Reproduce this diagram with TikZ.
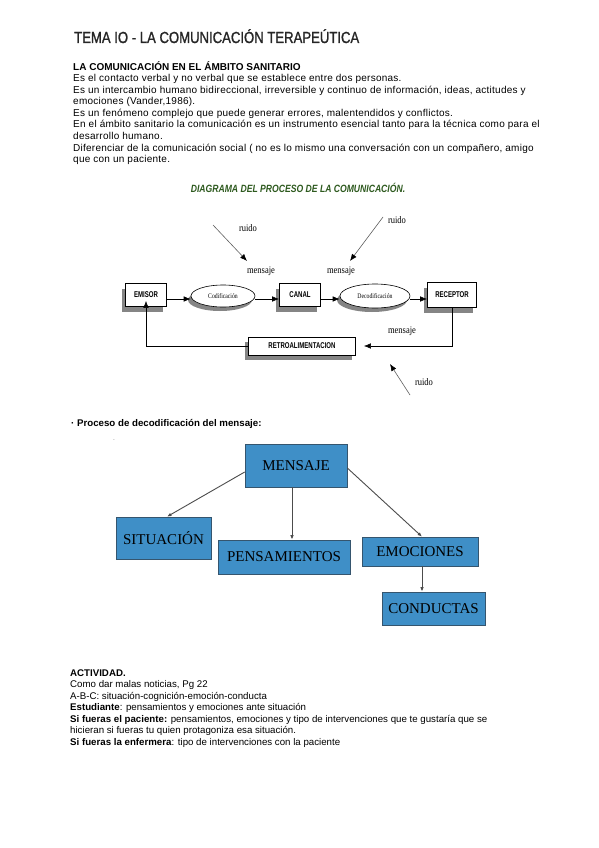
\documentclass[tikz,border=0pt]{standalone}
\usepackage{fontspec}
\setmainfont{Liberation Sans}
\newfontfamily\spacedsans[LetterSpace=2.5]{Liberation Sans}
\newfontfamily\titlefont[FakeStretch=0.82,FakeBold=1.2]{Liberation Sans}
\newfontfamily\condsans[FakeStretch=0.72]{Liberation Sans}
\newfontfamily\dtitlefont[FakeStretch=0.82]{Liberation Sans}
\newfontfamily\condserif[FakeStretch=0.82]{Liberation Serif}
\newfontfamily\lblserif[FakeStretch=0.85]{Liberation Serif}
\newfontfamily\timesf{Liberation Serif}
\usetikzlibrary{arrows.meta,shapes.geometric,shadows}
\definecolor{dgreen}{HTML}{2E5A1F}
\definecolor{boxblue}{HTML}{3F8FC7}
\definecolor{boxedge}{HTML}{35556E}
\definecolor{shadowgray}{HTML}{858585}
\begin{document}
\begin{tikzpicture}[x=1pt,y=-1pt,
  txt/.style={anchor=base west,inner sep=0pt,font=\spacedsans\fontsize{10}{11}\selectfont},
  atxt/.style={anchor=base west,inner sep=0pt,font=\fontsize{9.7}{11}\selectfont},
  comm/.style={draw=black,fill=white,line width=0.7pt,inner sep=0pt,
    font=\condsans\bfseries\fontsize{8.4}{9}\selectfont,
    drop shadow={shadow xshift=-4pt,shadow yshift=-5pt,fill=shadowgray,opacity=1}},
  ell/.style={ellipse,draw=black,fill=white,line width=0.6pt,inner sep=0pt,
    font=\condserif\fontsize{7}{8}\selectfont,
    drop shadow={shadow xshift=-3pt,shadow yshift=-4pt,fill=shadowgray,opacity=1}},
  lbl/.style={inner sep=0pt,font=\lblserif\fontsize{10}{10}\selectfont},
  carrow/.style={-{Latex[length=7pt,width=5.5pt]},line width=0.6pt,black},
  narrow/.style={-{Latex[length=7pt,width=5.5pt,fill=black,color=black]},line width=0.6pt,draw=gray!75!black},
  bluebox/.style={draw=boxedge,fill=boxblue,line width=0.6pt,inner sep=0pt,
    font=\timesf\fontsize{15}{16}\selectfont},
  darrow/.style={-{Latex[length=4.5pt,width=3.5pt]},line width=0.9pt,gray!60!black}
]
\useasboundingbox[fill=white] (0,0) rectangle (599,848);

% Title
\node[anchor=base west,inner sep=0pt,font=\titlefont\fontsize{16}{18}\selectfont,text=black!85]
  (title) at (74,43) {TEMA IO - LA COMUNICACIÓN TERAPEÚTICA};

% Section 1
\node[txt,font=\bfseries\fontsize{10}{11}\selectfont] (s1) at (73,70.5) {LA COMUNICACIÓN EN EL ÁMBITO SANITARIO};
\node[txt] (l1) at (73,82) {Es el contacto verbal y no verbal que se establece entre dos personas.};
\node[txt] (l2) at (73,93.5) {Es un intercambio humano bidireccional, irreversible y continuo de información, ideas, actitudes y};
\node[txt] (l3) at (73,105) {emociones (Vander,1986).};
\node[txt] (l4) at (73,116.5) {Es un fenómeno complejo que puede generar errores, malentendidos y conflictos.};
\node[txt] (l5) at (73,128) {En el ámbito sanitario la comunicación es un instrumento esencial tanto para la técnica como para el};
\node[txt] (l6) at (73,139.5) {desarrollo humano.};
\node[txt] (l7) at (73,151) {Diferenciar de la comunicación social ( no es lo mismo una conversación con un compañero, amigo};
\node[txt] (l8) at (73,162.5) {que con un paciente.};

% Diagram 1
\node[inner sep=0pt,font=\dtitlefont\bfseries\itshape\fontsize{10.5}{11}\selectfont,text=dgreen]
  (dtitle) at (298,188) {DIAGRAMA DEL PROCESO DE LA COMUNICACIÓN.};

\node[comm,minimum width=41pt,minimum height=23pt] (emisor) at (146,295) {EMISOR};
\node[ell,minimum width=64pt,minimum height=22pt] (cod) at (223,296) {Codificación};
\node[comm,minimum width=41pt,minimum height=23pt] (canal) at (300,295) {CANAL};
\node[ell,minimum width=70pt,minimum height=24pt] (decod) at (375,296) {Decodificación};
\node[comm,minimum width=49pt,minimum height=25pt] (receptor) at (452,295) {RECEPTOR};
\node[comm,minimum width=107pt,minimum height=18pt] (retro) at (302,346) {RETROALIMENTACION};

\draw[carrow] (emisor.east |- 0,299) -- (cod.west |- 0,299);
\draw[carrow] (cod.east |- 0,299) -- (canal.west |- 0,299);
\draw[carrow] (canal.east |- 0,299) -- (decod.west |- 0,299);
\draw[carrow] (decod.east |- 0,299) -- (receptor.west |- 0,299);
\draw[carrow] (receptor.south) |- ([xshift=8pt]retro.east);
\draw[carrow] (retro.west) -| ([yshift=6pt]emisor.south);

\coordinate (r1a) at (213,225); \coordinate (r1b) at (247,261);
\coordinate (r2a) at (383,217); \coordinate (r2b) at (350,261);
\coordinate (r3a) at (410,395); \coordinate (r3b) at (390,364);
\draw[narrow] (r1a) -- (r1b);
\draw[narrow] (r2a) -- (r2b);
\draw[narrow] (r3a) -- (r3b);
\node[lbl] (ruido1) at (248,228) {ruido};
\node[lbl] (ruido2) at (397,220) {ruido};
\node[lbl] (ruido3) at (424,382) {ruido};
\node[lbl] (m1) at (261,271) {mensaje};
\node[lbl] (m2) at (341,271) {mensaje};
\node[lbl] (m3) at (402,331) {mensaje};

% Section 2
\node[txt,font=\bfseries\fontsize{9.7}{11}\selectfont] (s2) at (71,426) {· Proceso de decodificación del mensaje:};
\node[inner sep=0pt,font=\fontsize{5}{5}\selectfont,text=gray] (dash) at (114,441) {-};

\node[bluebox,minimum width=102pt,minimum height=43pt] (mensaje) at (296,465.5) {MENSAJE};
\node[bluebox,minimum width=95pt,minimum height=42pt] (sit) at (163.5,538) {SITUACIÓN};
\node[bluebox,minimum width=132pt,minimum height=34pt] (pens) at (284,557) {PENSAMIENTOS};
\node[bluebox,minimum width=116pt,minimum height=29pt] (emo) at (420,551.5) {EMOCIONES};
\node[bluebox,minimum width=103pt,minimum height=33pt] (cond) at (433.5,608.5) {CONDUCTAS};

\draw[darrow] (mensaje.west |- 0,472) -- (sit.north -| 167,0);
\draw[darrow] (mensaje.south -| 292,0) -- (pens.north -| 292,0);
\draw[darrow] (mensaje.east |- 0,468) -- (emo.north -| 422,0);
\draw[darrow] (emo.south -| 422,0) -- (cond.north -| 422,0);

% Activity
\node[atxt,font=\bfseries\fontsize{9.7}{11}\selectfont] (a0) at (70,676) {ACTIVIDAD.};
\node[atxt] (a1) at (70,687.5) {Como dar malas noticias, Pg 22};
\node[atxt] (a2) at (70,699) {A-B-C: situación-cognición-emoción-conducta};
\node[atxt] (a3) at (70,710.5) {\textbf{Estudiante}: pensamientos y emociones ante situación};
\node[atxt] (a4) at (70,722) {\textbf{Si fueras el paciente:} pensamientos, emociones y tipo de intervenciones que te gustaría que se};
\node[atxt] (a5) at (70,733.5) {hicieran si fueras tu quien protagoniza esa situación.};
\node[atxt] (a6) at (70,745) {\textbf{Si fueras la enfermera}: tipo de intervenciones con la paciente};
\end{tikzpicture}
\end{document}
